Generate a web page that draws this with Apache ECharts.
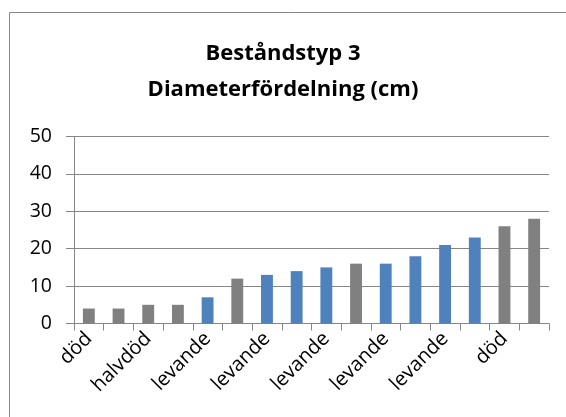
<!DOCTYPE html>
<html>
<head>
<meta charset="utf-8">
<script src="https://cdn.jsdelivr.net/npm/echarts@6/dist/echarts.min.js"></script>
<style>
  html, body { margin: 0; padding: 0; background: #fff; }
  #chart { width: 566px; height: 417px; }
</style>
</head>
<body>
<div id="chart"></div>
<script>
// Tree status per measured stem, sorted by diameter
const categories = ['död', 'död', 'halvdöd', 'halvdöd', 'levande', 'död', 'levande', 'levande',
                    'levande', 'död', 'levande', 'levande', 'levande', 'levande', 'död', 'död'];
// Diameter (cm) per stem
const diameters = [4, 4, 5, 5, 7, 12, 13, 14, 15, 16, 16, 18, 21, 23, 26, 28];
const yTicks = [0, 10, 20, 30, 40, 50];

const LIVE = '#4F81BD';
const DEAD = '#808080';
const GRID = '#868686';
const FONT = '"Open Sans", Lato, sans-serif';

const chart = echarts.init(document.getElementById('chart'), null, { renderer: 'canvas' });

// Living stems in blue, dead and half-dead stems in grey
const seriesData = diameters.map((v, i) => ({
  value: v,
  itemStyle: { color: categories[i] === 'levande' ? LIVE : DEAD }
}));

chart.setOption({
  animation: false,
  backgroundColor: '#fff',
  title: {
    text: 'Beståndstyp 3\nDiameterfördelning (cm)',
    left: 'center',
    top: 31,
    textStyle: {
      fontFamily: FONT,
      fontWeight: 'bold',
      fontSize: 22,
      lineHeight: 36,
      color: '#000'
    }
  },
  graphic: [{
    // chart-area frame (right and bottom edges run past the canvas)
    type: 'rect',
    shape: { x: 9.5, y: 12.5, width: 600, height: 500 },
    style: { fill: 'none', stroke: GRID, lineWidth: 1 },
    silent: true,
    z: 0
  }],
  grid: { left: 74, right: 17, top: 136.5, bottom: 93.5 },
  xAxis: {
    type: 'category',
    data: categories,
    boundaryGap: true,
    axisLine: { lineStyle: { color: GRID, width: 1 } },
    axisTick: { show: true, interval: 0, length: 7, alignWithLabel: false, lineStyle: { color: GRID } },
    axisLabel: {
      interval: 1,
      rotate: 45,
      margin: 12,
      fontFamily: FONT,
      fontSize: 20,
      color: '#000'
    }
  },
  yAxis: {
    type: 'value',
    min: yTicks[0],
    max: yTicks[yTicks.length - 1],
    interval: yTicks[1] - yTicks[0],
    axisLine: { show: true, lineStyle: { color: GRID, width: 1 } },
    axisTick: { show: true, length: 8, lineStyle: { color: GRID } },
    splitLine: { show: true, lineStyle: { color: GRID, width: 1 } },
    axisLabel: {
      margin: 22,
      fontFamily: FONT,
      fontSize: 19.5,
      color: '#000'
    }
  },
  series: [{
    type: 'bar',
    data: seriesData,
    barWidth: '40%'
  }]
});
</script>
</body>
</html>
